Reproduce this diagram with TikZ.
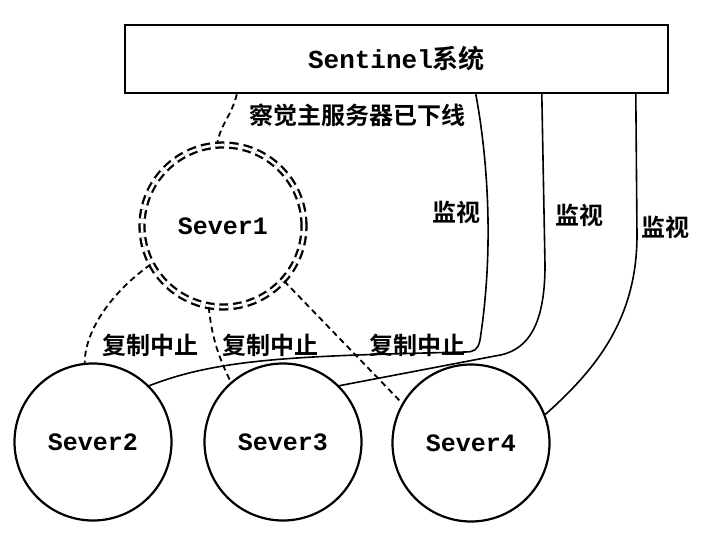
\documentclass[tikz,border=0pt]{standalone}
\usepackage{fontspec}
\setmonofont{Liberation Mono}
\newfontfamily\cjk{Noto Sans CJK SC}[BoldFont={Noto Sans CJK SC Bold}]

\begin{document}
\begin{tikzpicture}[x=1pt,y=-1pt,
  sever/.style={circle,draw,line width=2.2pt,minimum size=157pt,inner sep=0pt,font=\ttfamily\bfseries\fontsize{25}{25}\selectfont},
  lbl/.style={inner sep=0pt,font=\cjk\bfseries\fontsize{24}{24}\selectfont},
  link/.style={dash pattern=on 6pt off 4pt,line width=1.8pt},
  watch/.style={line width=1.6pt}]
\useasboundingbox (0,0) rectangle (712,534);
\node [draw,line width=2.4pt,minimum width=543pt,minimum height=68pt,font=\fontsize{26}{26}\selectfont] (sys) at (396.5,59) {{\ttfamily\bfseries Sentinel}{\cjk\bfseries 系统}};
\node [sever,minimum size=162pt,double,double distance=2.6pt,line width=2.3pt,dash pattern=on 9pt off 5pt] (s1) at (223,226) {Sever1};
\node [sever] (s2) at (93,442) {Sever2};
\node [sever] (s3) at (283,442) {Sever3};
\node [sever] (s4) at (471,443) {Sever4};
\node [lbl] (det) at (357,115) {察觉主服务器已下线};
\node [lbl] (w1) at (456,212) {监视};
\node [lbl] (w2) at (579,215) {监视};
\node [lbl] (w3) at (665,227) {监视};
\node [lbl] (c1) at (150,345) {复制中止};
\node [lbl] (c2) at (270,345) {复制中止};
\node [lbl] (c3) at (417,345) {复制中止};
\draw [link] ([xshift=113pt]sys.south west) .. controls (232,115) and (220,125) .. (s1.94);
\draw [link] (s1.208) .. controls (112,292) and (85,330) .. (s2.96);
\draw [link] (s1.260) .. controls (212,340) and (220,360) .. (s3.131);
\draw [link] (s1.-42) -- (s4.150);
\draw [watch] ([xshift=352pt]sys.south west) .. controls (488,160) and (494,250) .. (480,340) .. controls (478,350) and (474,352) .. (465,352) .. controls (300,356) and (220,358) .. (s2.45);
\draw [watch] ([xshift=418pt]sys.south west) -- (545,265) .. controls (545,330) and (525,352) .. (495,356) -- (s3.45);
\draw [watch] ([xshift=512pt]sys.south west) -- (637,235) .. controls (637,320) and (595,370) .. (s4.21);
\end{tikzpicture}
\end{document}
